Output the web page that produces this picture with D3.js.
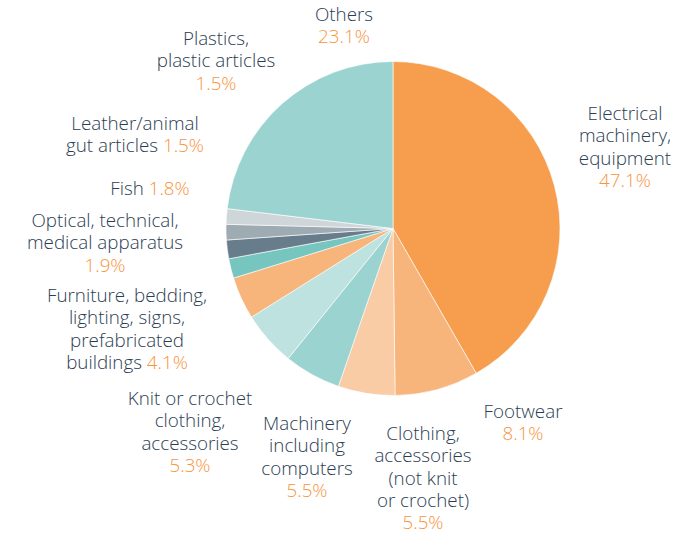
<!DOCTYPE html>
<html>
<head>
<meta charset="utf-8">
<script src="https://cdn.jsdelivr.net/npm/d3@7"></script>
<style>
  html, body { margin: 0; padding: 0; background: #fff; }
  svg { display: block; }
  text { font-family: "Open Sans", Lato, sans-serif; font-size: 18.8px; font-weight: 300; }
</style>
</head>
<body>
<div id="chart"></div>
<script>
// slices clockwise from 12 o'clock
const categories = [
  'Electrical machinery, equipment',
  'Footwear',
  'Clothing, accessories (not knit or crochet)',
  'Machinery including computers',
  'Knit or crochet clothing, accessories',
  'Furniture, bedding, lighting, signs, prefabricated buildings',
  'Optical, technical, medical apparatus',
  'Fish',
  'Leather/animal gut articles',
  'Plastics, plastic articles',
  'Others',
];
// share drawn in the pie (electrical slice is the remainder, 41.7)
const shares = [41.7, 8.1, 5.5, 5.5, 5.3, 4.1, 1.9, 1.8, 1.5, 1.5, 23.1];
// share as printed on the labels
const shareLabels = ['47.1%', '8.1%', '5.5%', '5.5%', '5.3%', '4.1%', '1.9%', '1.8%', '1.5%', '1.5%', '23.1%'];

const sliceColors = ['#f69e4e', '#f7b47b', '#f9cca6', '#9ad3cf', '#bde2e0', '#f7b47b',
  '#77c5bf', '#687d8b', '#9eabb2', '#cfd6d9', '#9ad3cf'];

// label layout: lines, centre x, first baseline, and whether % sits on the last line
const labelLayout = [
  { lines: ['Electrical', 'machinery,', 'equipment'], x: 625, y: 120, inline: false },
  { lines: ['Footwear'], x: 523, y: 418, inline: false },
  { lines: ['Clothing,', 'accessories', '(not knit', 'or crochet)'], x: 423, y: 440, inline: false },
  { lines: ['Machinery', 'including', 'computers'], x: 307, y: 430, inline: false },
  { lines: ['Knit or crochet', 'clothing,', 'accessories'], x: 190, y: 405, inline: false },
  { lines: ['Furniture, bedding,', 'lighting, signs,', 'prefabricated', 'buildings'], x: 127, y: 302, inline: true },
  { lines: ['Optical, technical,', 'medical apparatus'], x: 105, y: 227, inline: false },
  { lines: ['Fish'], x: 150, y: 195, inline: true },
  { lines: ['Leather/animal', 'gut articles'], x: 135, y: 130, inline: true },
  { lines: ['Plastics,', 'plastic articles'], x: 216, y: 45, inline: false },
  { lines: ['Others'], x: 344, y: 21, inline: false },
];

const width = 695;
const height = 534;
const cx = 393;
const cy = 228.5;
const radius = 167;
const lineH = 22.3;

const svg = d3.select('#chart').append('svg')
  .attr('width', width)
  .attr('height', height);

const pie = d3.pie().sort(null).value((d) => d);
const arc = d3.arc().innerRadius(0).outerRadius(radius);

svg.append('g')
  .attr('transform', `translate(${cx},${cy})`)
  .selectAll('path')
  .data(pie(shares))
  .join('path')
  .attr('d', arc)
  .attr('fill', (d, i) => sliceColors[i])
  .attr('stroke', '#fff')
  .attr('stroke-width', 0.6);

const labels = svg.append('g').selectAll('text')
  .data(categories)
  .join('text')
  .attr('text-anchor', 'middle')
  .attr('fill', '#2b3d52');

labels.each(function (name, i) {
  const lay = labelLayout[i];
  const t = d3.select(this);
  lay.lines.forEach((ln, j) => {
    t.append('tspan')
      .attr('x', lay.x)
      .attr('y', lay.y + j * lineH)
      .text(ln);
    if (lay.inline && j === lay.lines.length - 1) {
      t.append('tspan').attr('fill', '#f7943e').text(` ${shareLabels[i]}`);
    }
  });
  if (!lay.inline) {
    t.append('tspan')
      .attr('x', lay.x)
      .attr('y', lay.y + lay.lines.length * lineH)
      .attr('fill', '#f7943e')
      .text(shareLabels[i]);
  }
});
</script>
</body>
</html>
